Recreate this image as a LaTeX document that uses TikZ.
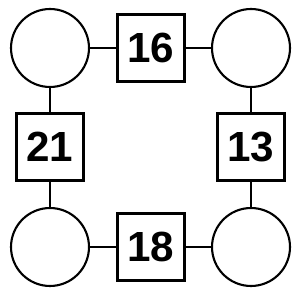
\documentclass[tikz,border=0pt]{standalone}
\usepackage{fontspec}
\setmainfont{Liberation Sans}
\usetikzlibrary{positioning}

\begin{document}
\begin{tikzpicture}[x=0.02cm, y=-0.02cm, line width=1.2pt,
  spot/.style={circle, draw, minimum size=1.56cm, inner sep=0pt},
  numbox/.style={rectangle, draw, minimum size=1.34cm, inner sep=0pt, font=\bfseries\fontsize{24}{24}\selectfont}]
\useasboundingbox (0,0) rectangle (300,300);
% corner circles:
\node[spot] (tl) at (50,48) {};
\node[spot] (tr) at (251,48) {};
\node[spot] (bl) at (50,247) {};
\node[spot] (br) at (251,247) {};
% number boxes:
\node[numbox] (top) at (151,48) {16};
\node[numbox] (left) at (50,147) {21};
\node[numbox] (right) at (251,147) {13};
\node[numbox] (bottom) at (151,247) {18};
% links:
\draw (tl) -- (top) ;\draw (top) -- (tr) ;
\draw (tl) -- (left) ;\draw (left) -- (bl) ;
\draw (tr) -- (right) ;\draw (right) -- (br) ;
\draw (bl) -- (bottom) ;\draw (bottom) -- (br) ;
\end{tikzpicture}
\end{document}
